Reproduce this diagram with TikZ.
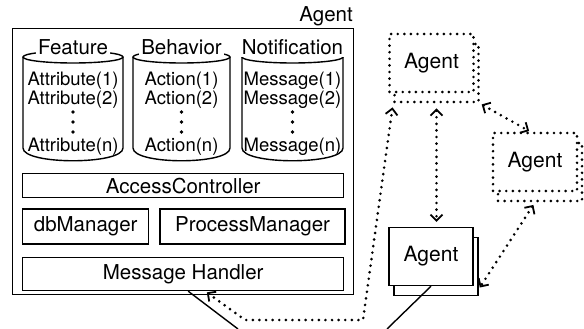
\documentclass[tikz,border=0pt]{standalone}
\usepackage{fontspec}
\setmainfont{TeX Gyre Heros}
\usetikzlibrary{arrows.meta, positioning}
\tikzset{
  title/.style = {inner sep=0pt, font=\fontsize{20.5}{22}\selectfont},
  hdr/.style = {anchor=base, fill=white, inner sep=2pt, font=\fontsize{20.5}{22}\selectfont},
  item/.style = {anchor=base, inner sep=1pt, font=\fontsize{18.5}{20}\selectfont},
  drum/.style = {line width=1.4pt},
  frame/.style = {draw, line width=1.4pt, inner sep=0pt, anchor=north west},
  modbox/.style = {draw, line width=1.4pt, inner sep=0pt, font=\fontsize{20.5}{22}\selectfont},
  dotline/.style = {line width=2.9pt, dash pattern=on 0pt off 6.6pt, line cap=round},
  agentbox/.style = {draw, fill=white, line width=1.4pt, minimum width=84, minimum height=58,
    inner sep=0pt, font=\fontsize{21}{22}\selectfont},
  shadowbox/.style = {draw, fill=white, line width=1.4pt, minimum width=84, minimum height=58},
  dotlink/.style = {dotline, <->},
  wire/.style = {line width=1.4pt},
  >={Straight Barb[length=6pt, width=12pt, line width=1.8pt]},
}

\begin{document}
\begin{tikzpicture}[x=1pt, y=-1pt]
\useasboundingbox (0,0) rectangle (584,329);

% the agent in detail
\node [title, anchor=base east] (agentTitle) at (353,22) {Agent};
\node [frame, minimum width=341, minimum height=266] (agent) at (12,28) {};

% Feature
\draw [drum] (73,57) ellipse [x radius=50, y radius=6];
\draw [drum] (23,57) -- (23,148) .. controls (23,165) and (123,165) .. (123,148) -- (123,57);
\node [hdr] (feature) at (73,54.5) {Feature};
\node [item] (attr1) at (73,85) {Attribute(1)};
\node [item] (attr2) at (73,105) {Attribute(2)};
\node [item] (attrN) at (73,151) {Attribute(n)};
\fill (73,112) circle (1.9) (73,122) circle (1.9) (73,132) circle (1.9);

% Behavior
\draw [drum] (181.5,57) ellipse [x radius=48.5, y radius=6];
\draw [drum] (133,57) -- (133,148) .. controls (133,165) and (230,165) .. (230,148) -- (230,57);
\node [hdr] (behavior) at (181.5,54.5) {Behavior};
\node [item] (act1) at (181.5,85) {Action(1)};
\node [item] (act2) at (181.5,105) {Action(2)};
\node [item] (actN) at (181.5,151) {Action(n)};
\fill (181.5,112) circle (1.9) (181.5,122) circle (1.9) (181.5,132) circle (1.9);

% Notification
\draw [drum] (292.5,57) ellipse [x radius=50.5, y radius=6];
\draw [drum] (242,57) -- (242,148) .. controls (242,165) and (343,165) .. (343,148) -- (343,57);
\node [hdr] (notification) at (292.5,54.5) {Notification};
\node [item] (msg1) at (292.5,85) {Message(1)};
\node [item] (msg2) at (292.5,105) {Message(2)};
\node [item] (msgN) at (292.5,151) {Message(n)};
\fill (292.5,112) circle (1.9) (292.5,122) circle (1.9) (292.5,132) circle (1.9);

% modules
\node [modbox, minimum width=321, minimum height=24, anchor=north west] (access) at (22,173) {AccessController};
\node [modbox, minimum width=126, minimum height=35, below=10pt of access.south west, anchor=north west] (db) {dbManager};
\node [modbox, minimum width=185, minimum height=35, right=10pt of db] (proc) {ProcessManager};
\node [modbox, minimum width=321, minimum height=33, below=12pt of db.south west, anchor=north west] (mh) {Message Handler};

% other agents
\node [shadowbox, dotline] (topSh) at (436.5,73) {};
\node [agentbox, dotline] (topAg) at ([shift={(-5,-10)}]topSh) {Agent};
\node [shadowbox, dotline] (rightSh) at (540,172) {};
\node [agentbox, dotline] (rightAg) at ([shift={(-5,-10)}]rightSh) {Agent};
\node [shadowbox] (botSh) at (436,266.5) {};
\node [agentbox] (botAg) at ([shift={(-5,-10)}]botSh) {Agent};

% links
\coordinate (mhPort) at ([xshift=22pt]mh.south);
\coordinate (bend1) at (245,320);
\coordinate (bend2) at (363,320);
\coordinate (netL) at (238,329);
\coordinate (netR) at (387,329);

\draw [dotlink, shorten <=2pt, shorten >=4pt] (mhPort) -- (bend1) -- (bend2) -- (topSh.south west);
\draw [dotlink, shorten <=5pt, shorten >=5pt] (topSh.south) -- (topSh.south |- botAg.north);
\draw [dotlink, shorten <=2pt, shorten >=1pt] (topSh.south east) -- ([xshift=-5pt]rightAg.north);
\draw [dotlink, shorten <=3pt, shorten >=2pt] ([xshift=-5pt]rightSh.south) -- ([yshift=7pt]botSh.south east);

\draw [wire] ([xshift=5pt]mh.south) -- (netL);
\draw [wire] (botAg.south) -- (netR);
\end{tikzpicture}
\end{document}
